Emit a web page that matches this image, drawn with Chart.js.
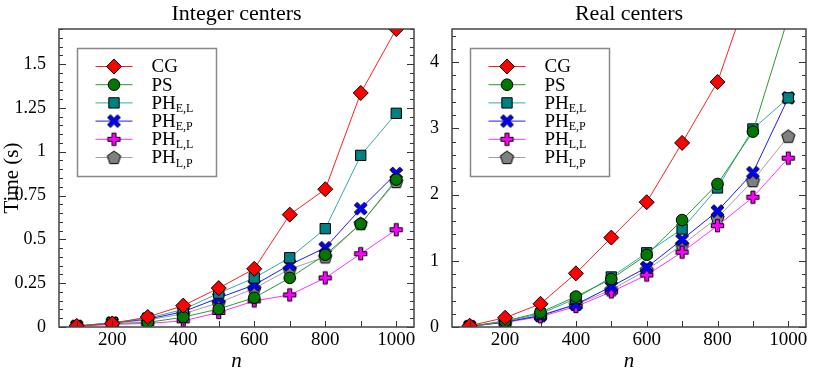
<!DOCTYPE html>
<html>
<head>
<meta charset="utf-8">
<script src="https://cdn.jsdelivr.net/npm/chart.js@4/dist/chart.umd.min.js"></script>
<style>
html, body { margin: 0; padding: 0; background: #fff; }
#wrap { position: relative; width: 822px; height: 374px; }
#left { position: absolute; left: 0; top: 0; }
#right { position: absolute; left: 430px; top: 0; }
</style>
</head>
<body>
<div id="wrap">
<canvas id="left" width="430" height="374"></canvas>
<canvas id="right" width="392" height="374"></canvas>
</div>
<script>
// problem sizes
const sizes = [100, 200, 300, 400, 500, 600, 700, 800, 900, 1000];

// Integer centers (seconds)
const intCG   = [0.006, 0.02, 0.057, 0.122, 0.222, 0.332, 0.641, 0.786, 1.335, 1.70];
const intPS   = [0.004, 0.02, 0.026, 0.056, 0.103, 0.167, 0.28, 0.412, 0.588, 0.841];
const intPHEL = [0.005, 0.025, 0.05, 0.10, 0.193, 0.28, 0.395, 0.561, 0.979, 1.219];
const intPHEP = [0.005, 0.024, 0.045, 0.087, 0.166, 0.24, 0.355, 0.452, 0.675, 0.876];
const intPHLL = [0.003, 0.015, 0.02, 0.035, 0.083, 0.149, 0.183, 0.28, 0.418, 0.555];
const intPHLP = [0.005, 0.022, 0.04, 0.075, 0.138, 0.22, 0.33, 0.40, 0.59, 0.83];

// Real centers (seconds)
const realCG   = [0.02, 0.14, 0.35, 0.81, 1.35, 1.885, 2.78, 3.70, 5.25, 7.0];
const realPS   = [0.01, 0.09, 0.22, 0.46, 0.725, 1.09, 1.615, 2.16, 2.95, 4.68];
const realPHEL = [0.01, 0.085, 0.20, 0.43, 0.755, 1.12, 1.48, 2.10, 2.99, 3.46];
const realPHEP = [0.01, 0.075, 0.17, 0.34, 0.61, 0.90, 1.32, 1.75, 2.33, 3.46];
const realPHLL = [0.01, 0.07, 0.155, 0.31, 0.53, 0.785, 1.13, 1.53, 1.96, 2.55];
const realPHLP = [0.01, 0.075, 0.18, 0.34, 0.56, 0.86, 1.24, 1.65, 2.21, 2.88];

// x tick labels (every 200)
const xLabels = [200, 400, 600, 800, 1000];

const names = [['CG', ''], ['PS', ''], ['PH', 'E,L'], ['PH', 'E,P'], ['PH', 'L,L'], ['PH', 'L,P']];

const FONT = "'Liberation Serif', 'DejaVu Serif', serif";

// marker images for shapes Chart.js does not have
function shape(fill, pts) {
  const c = document.createElement('canvas');
  c.width = 17; c.height = 17;
  const g = c.getContext('2d');
  g.translate(8.5, 8.5);
  g.beginPath();
  pts.forEach((p, i) => i ? g.lineTo(p[0], p[1]) : g.moveTo(p[0], p[1]));
  g.closePath();
  g.fillStyle = fill;
  g.fill();
  g.lineWidth = 1;
  g.strokeStyle = '#000';
  g.stroke();
  return c;
}
function plusPts(s, t, rot) {
  const base = [[-t,-s],[t,-s],[t,-t],[s,-t],[s,t],[t,t],[t,s],[-t,s],[-t,t],[-s,t],[-s,-t],[-t,-t]];
  const c = Math.cos(rot), si = Math.sin(rot);
  return base.map(p => [p[0]*c - p[1]*si, p[0]*si + p[1]*c]);
}
const pentPts = [0,1,2,3,4].map(i => {
  const a = -Math.PI / 2 + i * 2 * Math.PI / 5;
  return [7 * Math.cos(a), 7 * Math.sin(a) + 0.5];
});
const xMark = shape('#0000ff', plusPts(7, 2, Math.PI / 4));
const plusMark = shape('#ff00ff', plusPts(6.2, 2, 0));
const pentMark = shape('#808080', pentPts);

const styles = [
  { line: '#ff2020', fill: '#ff0000', point: 'rectRot', r: 7.5 },
  { line: '#2a9a2a', fill: '#007800', point: 'circle', r: 5.8 },
  { line: '#33aaaa', fill: '#008080', point: 'rect', r: 7.3 },
  { line: '#1a1aff', fill: '#0000ff', point: xMark, r: 7 },
  { line: '#ff33ff', fill: '#ff00ff', point: plusMark, r: 7 },
  { line: '#a0a0a0', fill: '#808080', point: pentMark, r: 7 }
];

function makeSets(series) {
  return series.map((vals, i) => ({
    label: names[i].join(''),
    data: vals,
    borderColor: styles[i].line,
    borderWidth: 1,
    backgroundColor: styles[i].fill,
    pointStyle: styles[i].point,
    pointRadius: styles[i].r,
    pointHoverRadius: styles[i].r,
    pointBorderColor: '#000',
    pointBorderWidth: 1,
    tension: 0,
    clip: 0
  }));
}

const framePlugin = {
  id: 'frame',
  afterDraw(chart, args, o) {
    const ctx = chart.ctx;
    const a = chart.chartArea;
    const xs = chart.scales.x, ys = chart.scales.y;
    ctx.save();
    // title
    ctx.fillStyle = '#000';
    ctx.font = '22px ' + FONT;
    ctx.textAlign = 'center';
    ctx.textBaseline = 'middle';
    ctx.fillText(o.title, (a.left + a.right) / 2, 14);
    // ticks
    ctx.strokeStyle = '#333';
    ctx.lineWidth = 1;
    ctx.beginPath();
    for (let v = 0; v <= ys.max + 1e-9; v += o.minor) {
      const y = Math.round(ys.getPixelForValue(v)) + 0.5;
      const major = Math.abs(v / o.major - Math.round(v / o.major)) < 1e-6;
      const len = major ? 7 : 4;
      ctx.moveTo(a.left, y); ctx.lineTo(a.left + len, y);
      ctx.moveTo(a.right, y); ctx.lineTo(a.right - len, y);
    }
    for (const v of sizes) {
      const x = Math.round(xs.getPixelForValue(v)) + 0.5;
      ctx.moveTo(x, a.bottom); ctx.lineTo(x, a.bottom - 6);
    }
    ctx.stroke();
    // frame
    ctx.strokeStyle = '#444';
    ctx.lineWidth = 1.5;
    ctx.strokeRect(a.left, a.top, a.right - a.left, a.bottom - a.top);
    // legend
    const lx = a.left + 18.5, ly = a.top + 19.5;
    ctx.fillStyle = '#fff';
    ctx.fillRect(lx, ly, 139, 128);
    ctx.strokeStyle = '#888';
    ctx.lineWidth = 1.5;
    ctx.strokeRect(lx, ly, 139, 128);
    chart.data.datasets.forEach((ds, i) => {
      const y = ly + 18 + i * 18.2;
      ctx.strokeStyle = ds.borderColor;
      ctx.lineWidth = 1;
      ctx.beginPath();
      ctx.moveTo(lx + 18, y); ctx.lineTo(lx + 55, y);
      ctx.stroke();
      ctx.fillStyle = ds.backgroundColor;
      ctx.strokeStyle = '#000';
      Chart.helpers.drawPoint(ctx, {
        pointStyle: ds.pointStyle, radius: ds.pointRadius, rotation: 0, borderWidth: 1
      }, lx + 36.5, y);
      ctx.fillStyle = '#000';
      ctx.textAlign = 'left';
      ctx.textBaseline = 'middle';
      ctx.font = '19px ' + FONT;
      ctx.fillText(names[i][0], lx + 74, y + 1);
      if (names[i][1]) {
        const w = ctx.measureText(names[i][0]).width;
        ctx.font = '12px ' + FONT;
        ctx.fillText(names[i][1], lx + 74 + w, y + 6);
      }
    });
    ctx.restore();
  }
};

function makeChart(id, series, opts) {
  return new Chart(document.getElementById(id), {
    type: 'line',
    data: { labels: sizes, datasets: makeSets(series) },
    options: {
      responsive: false,
      animation: false,
      events: [],
      layout: { padding: { top: 29, right: 16, left: 0, bottom: 0 } },
      plugins: {
        legend: { display: false },
        tooltip: { enabled: false },
        frame: { title: opts.title, major: opts.major, minor: opts.minor }
      },
      scales: {
        x: {
          type: 'linear', min: 50, max: 1050,
          grid: { display: false },
          border: { display: false },
          afterBuildTicks: s => { s.ticks = xLabels.map(v => ({ value: v })); },
          ticks: {
            autoSkip: false, maxRotation: 0,
            padding: -6, color: '#000', font: { family: FONT, size: 19 },
            callback: v => String(v)
          },
          title: { display: true, text: 'n', color: '#000', padding: { top: 0, bottom: 0 },
                   font: { family: FONT, size: 21, style: 'italic' } },
          afterFit: s => { s.height = 47; }
        },
        y: {
          min: 0, max: opts.max,
          grid: { display: false },
          border: { display: false },
          ticks: {
            stepSize: opts.major, includeBounds: false, padding: 5, color: '#000',
            font: { family: FONT, size: 18 },
            callback: v => String(+v.toFixed(2))
          },
          title: { display: opts.ytitle, text: 'Time (s)', color: '#000', padding: { top: 0, bottom: 0 },
                   font: { family: FONT, size: 21 } },
          afterFit: s => { s.width = opts.yw; }
        }
      }
    },
    plugins: [framePlugin]
  });
}

makeChart('left', [intCG, intPS, intPHEL, intPHEP, intPHLL, intPHLP],
  { title: 'Integer centers', max: 1.7, major: 0.25, minor: 0.05, yw: 59, ytitle: true });
makeChart('right', [realCG, realPS, realPHEL, realPHEP, realPHLL, realPHLP],
  { title: 'Real centers', max: 4.5, major: 1, minor: 0.2, yw: 22, ytitle: false });
</script>
</body>
</html>
